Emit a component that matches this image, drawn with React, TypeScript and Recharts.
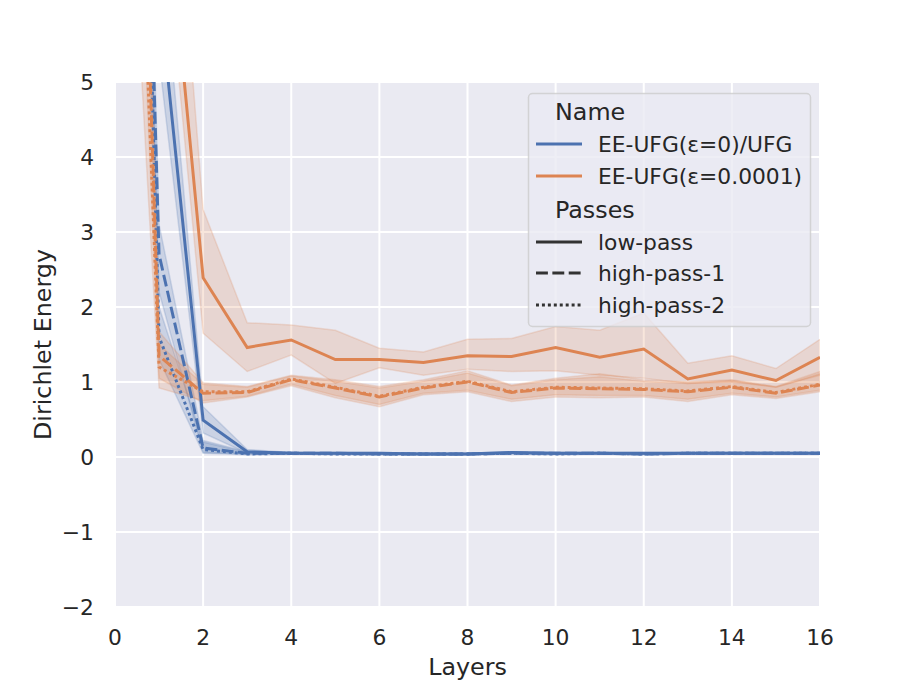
import React from 'react';
import { ComposedChart, Line, Area, XAxis, YAxis, CartesianGrid, Legend, Label } from 'recharts';

// ---------- data ----------
const layers = [0, 1, 2, 3, 4, 5, 6, 7, 8, 9, 10, 11, 12, 13, 14, 15, 16];

// EE-UFG(ε=0)/UFG
const ufgLow = [30, 6.2, 0.49, 0.07, 0.05, 0.05, 0.05, 0.04, 0.04, 0.06, 0.05, 0.05, 0.05, 0.05, 0.05, 0.05, 0.05];
const ufgLowLo = [25, 5.3, 0.32, 0.05, 0.04, 0.04, 0.04, 0.03, 0.03, 0.05, 0.04, 0.04, 0.04, 0.04, 0.04, 0.04, 0.04];
const ufgLowHi = [35, 7.2, 0.67, 0.1, 0.06, 0.06, 0.06, 0.05, 0.05, 0.07, 0.06, 0.06, 0.06, 0.06, 0.06, 0.06, 0.06];

const ufgHp1 = [22.7, 2.7, 0.12, 0.05, 0.05, 0.05, 0.04, 0.04, 0.04, 0.05, 0.05, 0.05, 0.04, 0.05, 0.05, 0.05, 0.05];
const ufgHp1Lo = [20, 2.2, 0.06, 0.04, 0.04, 0.04, 0.03, 0.03, 0.03, 0.04, 0.04, 0.04, 0.03, 0.04, 0.04, 0.04, 0.04];
const ufgHp1Hi = [25, 3.1, 0.22, 0.07, 0.06, 0.06, 0.05, 0.05, 0.05, 0.06, 0.06, 0.06, 0.05, 0.06, 0.06, 0.06, 0.06];

const ufgHp2 = [23, 1.6, 0.1, 0.04, 0.05, 0.04, 0.04, 0.04, 0.04, 0.05, 0.04, 0.05, 0.04, 0.05, 0.05, 0.05, 0.05];
const ufgHp2Lo = [20, 1.3, 0.05, 0.03, 0.04, 0.03, 0.03, 0.03, 0.03, 0.04, 0.03, 0.04, 0.03, 0.04, 0.04, 0.04, 0.04];
const ufgHp2Hi = [26, 2.0, 0.2, 0.06, 0.06, 0.05, 0.05, 0.05, 0.05, 0.06, 0.05, 0.06, 0.05, 0.06, 0.06, 0.06, 0.06];

// EE-UFG(ε=0.0001)
const eeLow = [35, 8.5, 2.39, 1.46, 1.56, 1.3, 1.3, 1.26, 1.35, 1.34, 1.46, 1.33, 1.44, 1.04, 1.16, 1.02, 1.33];
const eeLowLo = [30, 7.8, 1.65, 1.14, 1.36, 0.98, 1.19, 1.09, 1.17, 1.14, 1.15, 1.09, 1.05, 0.98, 1.0, 0.93, 1.09];
const eeLowHi = [40, 10.7, 3.3, 1.79, 1.76, 1.69, 1.45, 1.4, 1.57, 1.58, 1.74, 1.69, 1.92, 1.25, 1.35, 1.18, 1.57];

const eeHp1 = [19.6, 1.35, 0.85, 0.86, 1.03, 0.92, 0.8, 0.92, 1.0, 0.86, 0.92, 0.91, 0.9, 0.87, 0.93, 0.85, 0.96];
const eeHp1Lo = [15, 1.05, 0.72, 0.8, 0.95, 0.79, 0.67, 0.83, 0.87, 0.74, 0.8, 0.79, 0.8, 0.74, 0.83, 0.78, 0.87];
const eeHp1Hi = [25, 1.67, 0.99, 0.94, 1.09, 1.03, 0.94, 1.03, 1.15, 0.96, 1.05, 1.11, 1.03, 1.0, 1.03, 0.94, 1.14];

const eeHp2 = [16.4, 1.2, 0.87, 0.87, 1.04, 0.93, 0.81, 0.93, 1.01, 0.87, 0.93, 0.92, 0.91, 0.88, 0.94, 0.86, 0.97];
const eeHp2Lo = [11.4, 0.92, 0.75, 0.81, 0.97, 0.82, 0.7, 0.85, 0.89, 0.77, 0.83, 0.82, 0.82, 0.77, 0.85, 0.8, 0.89];
const eeHp2Hi = [22, 1.5, 0.97, 0.93, 1.08, 1.01, 0.92, 1.01, 1.12, 0.95, 1.03, 1.07, 1.01, 0.98, 1.02, 0.93, 1.11];

const xTicks = [0, 2, 4, 6, 8, 10, 12, 14, 16];
const yTicks = [-2, -1, 0, 1, 2, 3, 4, 5];

const nameTitle = 'Name';
const nameLabels = ['EE-UFG(ε=0)/UFG', 'EE-UFG(ε=0.0001)'];
const passTitle = 'Passes';
const passLabels = ['low-pass', 'high-pass-1', 'high-pass-2'];

// ---------- styles ----------
const BLUE = '#4C72B0';
const ORANGE = '#DD8452';
const TEXT = '#262626';
const FONT = '"DejaVu Sans", sans-serif';
const LW = 2.97;
const DASH_SOLID = undefined;
const DASH_DASHED = '11.9 4.46';
const DASH_DOTTED = '2.97 2.97';
const passDashes = [DASH_SOLID, DASH_DASHED, DASH_DOTTED];

const data = layers.map((layer, i) => ({
  layer,
  ufgLow: ufgLow[i],
  ufgLowBand: [ufgLowLo[i], ufgLowHi[i]],
  ufgHp1: ufgHp1[i],
  ufgHp1Band: [ufgHp1Lo[i], ufgHp1Hi[i]],
  ufgHp2: ufgHp2[i],
  ufgHp2Band: [ufgHp2Lo[i], ufgHp2Hi[i]],
  eeLow: eeLow[i],
  eeLowBand: [eeLowLo[i], eeLowHi[i]],
  eeHp1: eeHp1[i],
  eeHp1Band: [eeHp1Lo[i], eeHp1Hi[i]],
  eeHp2: eeHp2[i],
  eeHp2Band: [eeHp2Lo[i], eeHp2Hi[i]],
}));

const series = [
  { key: 'ufgLow', color: BLUE, dash: DASH_SOLID },
  { key: 'ufgHp1', color: BLUE, dash: DASH_DASHED },
  { key: 'ufgHp2', color: BLUE, dash: DASH_DOTTED },
  { key: 'eeLow', color: ORANGE, dash: DASH_SOLID },
  { key: 'eeHp1', color: ORANGE, dash: DASH_DASHED },
  { key: 'eeHp2', color: ORANGE, dash: DASH_DOTTED },
];

const fmtY = (v: number) => (v < 0 ? '\u2212' + Math.abs(v) : String(v));

const LegendBox = () => {
  const W = 283;
  const H = 234;
  const hx1 = 8;
  const hx2 = 54;
  const tx = 70;
  const rowY = [51, 83];
  const passY = [149, 180, 212];
  return (
    <svg width={W} height={H} style={{ display: 'block', overflow: 'visible' }}>
      <rect x={0.5} y={0.5} width={W - 1} height={H - 1} rx={4} ry={4}
        fill="#EAEAF2" fillOpacity={0.8} stroke="#CCCCCC" strokeOpacity={0.8} strokeWidth={1.5} />
      <text x={27} y={19} dominantBaseline="central" fontSize={23.8} fill={TEXT} fontFamily={FONT}>{nameTitle}</text>
      {nameLabels.map((lab, i) => (
        <g key={lab}>
          <line x1={hx1} x2={hx2} y1={rowY[i]} y2={rowY[i]} stroke={i === 0 ? BLUE : ORANGE} strokeWidth={LW} />
          <text x={tx} y={rowY[i]} dominantBaseline="central" fontSize={21.8} fill={TEXT} fontFamily={FONT}>{lab}</text>
        </g>
      ))}
      <text x={27} y={117} dominantBaseline="central" fontSize={23.8} fill={TEXT} fontFamily={FONT}>{passTitle}</text>
      {passLabels.map((lab, i) => (
        <g key={lab}>
          <line x1={hx1} x2={hx2} y1={passY[i]} y2={passY[i]} stroke="#333333" strokeWidth={LW}
            strokeDasharray={passDashes[i]} />
          <text x={tx} y={passY[i]} dominantBaseline="central" fontSize={21.8} fill={TEXT} fontFamily={FONT}>{lab}</text>
        </g>
      ))}
    </svg>
  );
};

export default function App() {
  return (
    <div style={{ width: 913, height: 685, background: '#ffffff' }}>
      <style>{`body{margin:0;}`}</style>
      <ComposedChart width={913} height={685} data={data}
        margin={{ top: 82, right: 93, bottom: 0, left: 0 }}>
        <CartesianGrid fill="#EAEAF2" fillOpacity={1} stroke="#FFFFFF" strokeWidth={2}
          horizontal vertical />
        <XAxis dataKey="layer" type="number" domain={[0, 16]} ticks={xTicks} height={78}
          axisLine={false} tickLine={false} tickSize={8} tickMargin={15} allowDataOverflow
          tick={{ fontSize: 21.8, fill: TEXT, fontFamily: FONT }}>
          <Label content={(props: any) => {
            const vb = props.viewBox || { x: 115, y: 607, width: 705, height: 78 };
            return (
              <text x={vb.x + vb.width / 2} y={vb.y + 68} textAnchor="middle" fontSize={23.8}
                fill={TEXT} fontFamily={FONT}>Layers</text>
            );
          }} />
        </XAxis>
        <YAxis type="number" domain={[-2, 5]} ticks={yTicks} width={115} allowDataOverflow
          axisLine={false} tickLine={false} tickSize={8} tickMargin={13} tickFormatter={fmtY}
          tick={{ fontSize: 21.8, fill: TEXT, fontFamily: FONT }}>
          <Label content={(props: any) => {
            const vb = props.viewBox || { x: 0, y: 82, width: 115, height: 525 };
            const lx = vb.x + vb.width - 64;
            const ly = vb.y + vb.height / 2;
            return (
              <text x={lx} y={ly} transform={`rotate(-90 ${lx} ${ly})`} textAnchor="middle"
                fontSize={23.8} fill={TEXT} fontFamily={FONT}>Dirichlet Energy</text>
            );
          }} />
        </YAxis>
        {series.map((s) => (
          <Area key={s.key + 'Band'} type="linear" dataKey={s.key + 'Band'} stroke={s.color}
            strokeOpacity={0.2} strokeWidth={1.5} fill={s.color} fillOpacity={0.2}
            isAnimationActive={false} dot={false} activeDot={false} legendType="none" />
        ))}
        {series.map((s) => (
          <Line key={s.key} type="linear" dataKey={s.key} stroke={s.color} strokeWidth={LW}
            strokeDasharray={s.dash} dot={false} activeDot={false} isAnimationActive={false}
            legendType="none" />
        ))}
        <Legend layout="vertical" align="center" verticalAlign="middle"
          wrapperStyle={{ position: 'absolute', left: 528, top: 93, width: 283, height: 234, margin: 0, padding: 0 }}
          content={() => <LegendBox />} />
      </ComposedChart>
    </div>
  );
}
